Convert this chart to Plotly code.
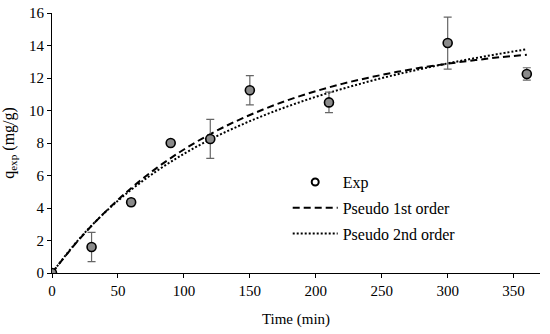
import plotly.graph_objects as go

# Experimental data
t_exp = [0, 30, 60, 90, 120, 150, 210, 300, 360]
q_exp = [0.0, 1.6, 4.35, 8.0, 8.25, 11.25, 10.5, 14.15, 12.25]
q_err = [0.0, 0.9, 0.2, 0.1, 1.2, 0.9, 0.63, 1.6, 0.38]

# Model curves
t_fit = [0, 20, 40, 60, 80, 100, 120, 140, 160, 180, 200, 220, 240, 260, 280, 300, 320, 340, 360]
q_pfo = [0, 2.01, 3.73, 5.22, 6.50, 7.60, 8.55, 9.36, 10.06, 10.67, 11.19, 11.64, 12.02, 12.35, 12.64, 12.88, 13.09, 13.28, 13.43]
q_pso = [0, 2.04, 3.72, 5.12, 6.31, 7.33, 8.22, 8.99, 9.68, 10.29, 10.84, 11.33, 11.78, 12.19, 12.56, 12.90, 13.21, 13.50, 13.77]

x_ticks = [0, 50, 100, 150, 200, 250, 300, 350]
y_ticks = [0, 2, 4, 6, 8, 10, 12, 14, 16]

FONT = "Liberation Serif"

fig = go.Figure()

fig.add_trace(go.Scatter(
    x=t_fit, y=q_pfo, mode="lines", name="Pseudo 1st order",
    line=dict(color="black", width=2, dash="7px,4px", shape="spline"),
    legendgroup="b", legendrank=2,
))
fig.add_trace(go.Scatter(
    x=t_fit, y=q_pso, mode="lines", name="Pseudo 2nd order",
    line=dict(color="black", width=2, dash="2px,2px", shape="spline"),
    legendgroup="c", legendrank=3,
))
fig.add_trace(go.Scatter(
    x=t_exp, y=q_exp, mode="markers", name="Exp", showlegend=False,
    marker=dict(symbol="circle", size=9, color="#8a8a8a",
                line=dict(color="black", width=1.6)),
    error_y=dict(type="data", array=q_err, visible=True, color="#666666",
                 thickness=1.2, width=4),
))
fig.add_trace(go.Scatter(
    x=[None], y=[None], mode="markers", name="Exp",
    marker=dict(symbol="circle", size=7, color="white",
                line=dict(color="black", width=2)),
    legendgroup="a", legendrank=1,
))

fig.update_layout(
    width=550, height=334,
    margin=dict(l=52, r=10, t=13, b=61, autoexpand=False),
    paper_bgcolor="white", plot_bgcolor="white",
    font=dict(family=FONT, size=15, color="black"),
    legend=dict(x=0.483, y=0.415, xanchor="left", yanchor="top",
                bgcolor="rgba(0,0,0,0)", tracegroupgap=2, itemwidth=45,
                font=dict(family=FONT, size=16)),
)
fig.update_xaxes(
    range=[0, 370], tickvals=x_ticks, showgrid=False, zeroline=False,
    showline=True, linecolor="black", linewidth=1.2, automargin=False,
    ticks="outside", ticklen=4, tickcolor="black",
    title=dict(text="Time (min)", font=dict(family=FONT, size=15)),
)
fig.update_yaxes(
    range=[0, 16], tickvals=y_ticks, showgrid=False, zeroline=False,
    showline=True, linecolor="black", linewidth=1.2, automargin=False,
    ticks="outside", ticklen=4, tickcolor="black",
    title=dict(text="q<sub>exp</sub> (mg/g)", font=dict(family=FONT, size=16)),
)

fig.write_html("out.html", config={"displayModeBar": False},
               post_script="document.body.style.margin='0px';")
